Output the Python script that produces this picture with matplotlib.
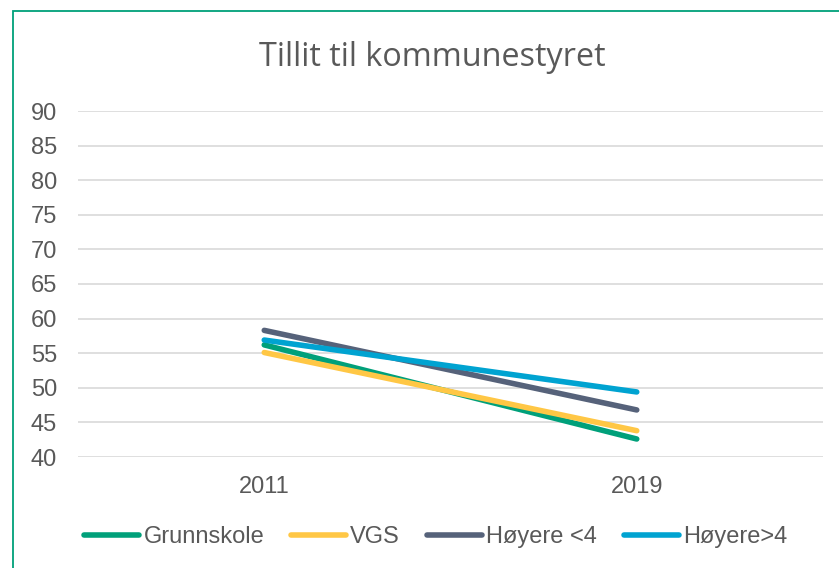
import matplotlib.pyplot as plt
from matplotlib.patches import Rectangle

# data
years = ["2011", "2019"]
grunnskole = [56.2, 42.6]
vgs = [55.1, 43.8]
hoyere_u4 = [58.3, 46.8]
hoyere_o4 = [56.9, 49.4]

series = [
    ("Grunnskole", grunnskole, "#00A07A"),
    ("VGS", vgs, "#FFC745"),
    ("Høyere <4", hoyere_u4, "#56627A"),
    ("Høyere>4", hoyere_o4, "#00A3D1"),
]
yticks = list(range(40, 95, 5))
txt = "#595959"

plt.rcParams['font.family'] = ['Liberation Sans', 'DejaVu Sans']

fig = plt.figure(figsize=(8.39, 5.68), dpi=100)
ax = fig.add_axes([78 / 839, 1 - 457 / 568, 745 / 839, 346 / 568])

x = list(range(len(years)))
for name, vals, col in series:
    ax.plot(x, vals, color=col, lw=4.0, solid_capstyle="round", label=name)

ax.set_xlim(-0.5, len(years) - 0.5)
ax.set_ylim(40, 90)
ax.set_yticks(yticks)
ax.set_xticks(x)
ax.set_xticklabels(years)
ax.grid(axis="y", color="#D9D9D9", lw=1.2)
ax.set_axisbelow(True)
for s in ax.spines.values():
    s.set_visible(False)
ax.tick_params(axis="y", length=0, pad=15, labelsize=17, labelcolor=txt)
ax.tick_params(axis="x", length=0, pad=14, labelsize=17, labelcolor=txt)

fig.text(432 / 839, 1 - 57 / 568, "Tillit til kommunestyret", ha="center", va="center",
         fontsize=23.3, color=txt, family=["Open Sans", "DejaVu Sans"])

leg = fig.legend(loc="center", bbox_to_anchor=(436 / 839, 1 - 537 / 568), ncol=4,
                 frameon=False, fontsize=17, handlelength=2.33, handletextpad=0.17,
                 columnspacing=1.15)
for t in leg.get_texts():
    t.set_color(txt)

# outer chart frame (runs off the right and bottom edges)
fig.patches.append(Rectangle((13 / 839, -0.05), 1.0, 1 - 11 / 568 + 0.05,
                             transform=fig.transFigure, fill=False,
                             edgecolor="#00A07A", lw=1.3))

fig.savefig("out.png", dpi=100)
